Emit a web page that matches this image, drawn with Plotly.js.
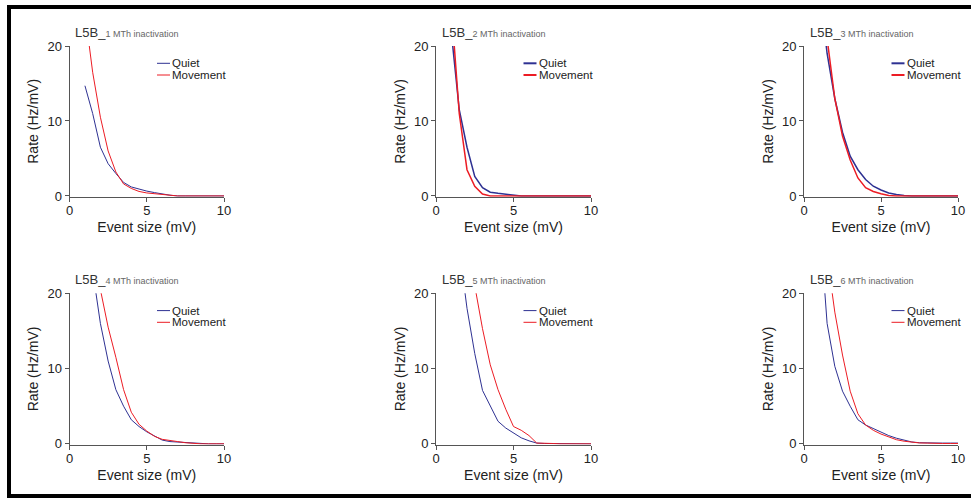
<!DOCTYPE html>
<html><head><meta charset="utf-8">
<script src="https://cdn.plot.ly/plotly-3.0.1.min.js"></script>
<style>html,body{margin:0;padding:0;background:#fff}</style>
</head><body><div id="chart" style="width:971px;height:498px"></div>
<script>
// Event size bins (mV)
const eventSize = [1,1.5,2,2.5,3,3.5,4,4.5,5,5.5,6,6.5,7,7.5,8,8.5,9,9.5,10];
const panelIds = ['1','2','3','4','5','6'];
const seriesNames = ['Quiet','Movement'];
const xTicks = [0,5,10];
const yTicks = [0,10,20];

// Rate (Hz/mV) per panel
const quiet1    = [14.7,11,6.5,4.3,3.0,1.8,1.2,0.9,0.65,0.45,0.25,0.1,0,0,0,0,0,0,0];
const movement1 = [24.5,16.5,10.5,6,3.2,1.6,1.0,0.6,0.4,0.3,0.1,0,0,0,0,0,0,0,0];
const quiet2    = [21.6,11.5,6.5,2.6,1.1,0.5,0.35,0.2,0.1,0,0,0,0,0,0,0,0,0,0];
const movement2 = [25,11,3.5,1.3,0.25,0,0,0,0,0,0,0,0,0,0,0,0,0,0];
const quiet3    = [28,19,13,8.5,5.3,3.5,2.2,1.3,0.8,0.4,0.2,0.05,0,0,0,0,0,0,0];
const movement3 = [32,21,13,8,4.8,2.4,1.1,0.6,0.3,0.05,0,0,0,0,0,0,0,0,0];
const quiet4    = [32,23,16,11,7.2,5,3.2,2.3,1.6,1.0,0.5,0.3,0.25,0.15,0.05,0,0,0,0];
const movement4 = [42,30,20.5,15.5,11.5,7.2,4.2,2.6,1.7,1.0,0.6,0.4,0.3,0.15,0.05,0,0,0,0];
const quiet5    = [36,26,18,12,7.1,5,3.0,2.1,1.4,0.8,0.4,0.1,0.05,0.05,0,0,0,0,0];
const movement5 = [40,33,27,21,15.3,10.5,7.2,4.6,2.3,1.8,1.1,0.1,0.1,0.05,0,0,0,0,0];
const quiet6    = [30,16,10.3,7,5,3.2,2.5,2.0,1.5,1.1,0.75,0.5,0.25,0.15,0.1,0.1,0.1,0.1,0.1];
const movement6 = [38,25,17.5,11.8,7,4,2.5,1.8,1.3,0.9,0.55,0.35,0.2,0.12,0.1,0.05,0.05,0.05,0.05];

const quietAll = [quiet1,quiet2,quiet3,quiet4,quiet5,quiet6];
const movementAll = [movement1,movement2,movement3,movement4,movement5,movement6];

// ---- styling / layout ----
const W = 971, H = 498;
const BLUE = '#2e3192', RED = '#ec1c24';
const FONT = 'Liberation Sans, Arial, Helvetica, sans-serif';
const colPx = [[69.5,224],[436,591],[804,958]];
const rowPx = [[46,196.7],[293.3,444.6]];
const lineW = [1,1.5,1.5,1,1,1];
const px = v => v / W, py = v => 1 - v / H;

const traces = [];
const layout = {
  width: W, height: H, margin:{l:0,r:0,t:0,b:0},
  paper_bgcolor:'#fff', plot_bgcolor:'rgba(0,0,0,0)',
  showlegend:false, font:{family:FONT, color:'#222'},
  shapes:[], annotations:[]
};

panelIds.forEach((id, i) => {
  const r = Math.floor(i/3), c = i%3;
  const sfx = i === 0 ? '' : String(i+1);
  const xa = 'x'+sfx, ya = 'y'+sfx;
  traces.push({x:eventSize, y:quietAll[i], type:'scatter', mode:'lines', name:seriesNames[0],
    xaxis:xa, yaxis:ya, line:{color:BLUE, width:lineW[i]}, hoverinfo:'skip'});
  traces.push({x:eventSize, y:movementAll[i], type:'scatter', mode:'lines', name:seriesNames[1],
    xaxis:xa, yaxis:ya, line:{color:RED, width:lineW[i]}, hoverinfo:'skip'});
  const common = {showgrid:false, zeroline:false, showline:true, linecolor:'#555', linewidth:1,
    ticks:'outside', ticklen:4, tickcolor:'#555', tickwidth:1, layer:'below traces',
    tickfont:{family:FONT, size:13, color:'#222'}};
  layout['xaxis'+sfx] = Object.assign({}, common, {
    domain:[px(colPx[c][0]), px(colPx[c][1])], anchor:ya, range:[0,10], tickvals:xTicks,
    ticklabelstandoff:-2,
    title:{text:'Event size (mV)', font:{family:FONT, size:14, color:'#222'}, standoff:4}
  });
  layout['yaxis'+sfx] = Object.assign({}, common, {
    domain:[py(rowPx[r][1]), py(rowPx[r][0])], anchor:xa, range:[-0.1,20], tickvals:yTicks,
    title:{text:'Rate (Hz/mV)', font:{family:FONT, size:14, color:'#222'}, standoff:5}
  });
  // panel title
  layout.annotations.push({xref:'paper', yref:'paper', x:px(colPx[c][0]+3.5), y:py(rowPx[r][0]-13.5),
    xanchor:'left', yanchor:'middle', showarrow:false,
    text:'L5B_<span style="font-size:9px;color:#666">'+id+' MTh inactivation</span>',
    font:{family:FONT, size:13, color:'#333'}});
  // legend
  const lx = colPx[c][0] + 87.5;
  const ly = [rowPx[r][0] + 17.3, rowPx[r][0] + 29];
  const lw = (i===1||i===2) ? 2 : 1;
  [BLUE, RED].forEach((col, k) => {
    layout.shapes.push({type:'line', xref:'paper', yref:'paper', x0:px(lx), x1:px(lx+13),
      y0:py(ly[k]), y1:py(ly[k]), line:{color:col, width:lw}});
    layout.annotations.push({xref:'paper', yref:'paper', x:px(lx+13), y:py(ly[k]),
      xanchor:'left', yanchor:'middle', showarrow:false, text:seriesNames[k],
      font:{family:FONT, size:11.5, color:'#222'}});
  });
});

// outer frame
layout.shapes.push({type:'rect', xref:'paper', yref:'paper', x0:px(9), x1:px(990), y0:py(496), y1:py(7),
  line:{color:'#000', width:4}, fillcolor:'rgba(0,0,0,0)'});

Plotly.newPlot('chart', traces, layout, {displayModeBar:false, staticPlot:true});
</script></body></html>
